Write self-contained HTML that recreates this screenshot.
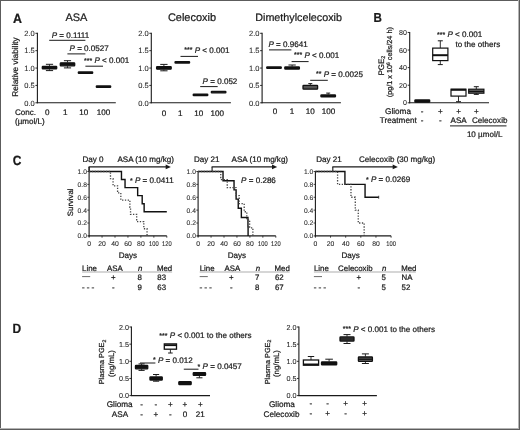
<!DOCTYPE html>
<html><head><meta charset="utf-8"><style>
html,body{margin:0;padding:0;background:#fff;}
svg{display:block;will-change:transform;}
text{font-family:"Liberation Sans",sans-serif;text-rendering:geometricPrecision;stroke:#1a1a1a;stroke-width:0.22px;}
text.tk{stroke-width:0.08px;fill:#2a2a2a;}
</style></head><body>
<svg width="520" height="430" viewBox="0 0 520 430" fill="#1a1a1a" font-family="Liberation Sans, sans-serif">
<rect x="0" y="0" width="520" height="430" fill="#fff"/>
<rect x="0" y="0" width="520" height="1" fill="#5c5c5c"/>
<rect x="0" y="0" width="1" height="430" fill="#5c5c5c"/>
<rect x="518" y="0" width="1" height="430" fill="#b4b4b4"/>
<rect x="0" y="428" width="519" height="1" fill="#b4b4b4"/>
<rect x="519" y="0" width="1" height="430" fill="#5c5c5c"/>
<rect x="0" y="429" width="520" height="1" fill="#5c5c5c"/>
<text x="0" y="0" font-size="12.4" font-weight="bold" transform="translate(13.1 22.5) scale(1 1.08)">A</text>
<line x1="37.40" y1="32.80" x2="37.40" y2="103.30" stroke="#1a1a1a" stroke-width="1.1" />
<line x1="36.90" y1="102.80" x2="115.80" y2="102.80" stroke="#1a1a1a" stroke-width="1.1" />
<line x1="35.40" y1="33.30" x2="37.40" y2="33.30" stroke="#1a1a1a" stroke-width="0.9" />
<text x="34.80" y="36.10" font-size="7.5" text-anchor="end" class="tk">2.0</text>
<line x1="35.40" y1="50.67" x2="37.40" y2="50.67" stroke="#1a1a1a" stroke-width="0.9" />
<text x="34.80" y="53.47" font-size="7.5" text-anchor="end" class="tk">1.5</text>
<line x1="35.40" y1="68.05" x2="37.40" y2="68.05" stroke="#1a1a1a" stroke-width="0.9" />
<text x="34.80" y="70.85" font-size="7.5" text-anchor="end" class="tk">1.0</text>
<line x1="35.40" y1="85.42" x2="37.40" y2="85.42" stroke="#1a1a1a" stroke-width="0.9" />
<text x="34.80" y="88.22" font-size="7.5" text-anchor="end" class="tk">0.5</text>
<line x1="35.40" y1="102.80" x2="37.40" y2="102.80" stroke="#1a1a1a" stroke-width="0.9" />
<text x="34.80" y="105.60" font-size="7.5" text-anchor="end" class="tk">0.0</text>
<text x="76.40" y="20.90" font-size="10.97" text-anchor="middle" >ASA</text>
<text x="17.6" y="67" font-size="8.3" text-anchor="middle" transform="rotate(-90 17.6 67)" fill="#1a1a1a">Relative viability</text>
<line x1="49.50" y1="64.30" x2="49.50" y2="65.90" stroke="#1a1a1a" stroke-width="0.9" />
<line x1="45.90" y1="64.30" x2="53.10" y2="64.30" stroke="#1a1a1a" stroke-width="1.0" />
<line x1="49.50" y1="69.30" x2="49.50" y2="70.60" stroke="#1a1a1a" stroke-width="0.9" />
<line x1="45.90" y1="70.60" x2="53.10" y2="70.60" stroke="#1a1a1a" stroke-width="1.0" />
<rect x="42.30" y="66.30" width="14.40" height="2.60" fill="#111" stroke="#111" stroke-width="1.3" rx="0.6"/>
<line x1="67.50" y1="60.70" x2="67.50" y2="62.40" stroke="#1a1a1a" stroke-width="0.9" />
<line x1="63.90" y1="60.70" x2="71.10" y2="60.70" stroke="#1a1a1a" stroke-width="1.0" />
<line x1="67.50" y1="66.20" x2="67.50" y2="67.90" stroke="#1a1a1a" stroke-width="0.9" />
<line x1="63.90" y1="67.90" x2="71.10" y2="67.90" stroke="#1a1a1a" stroke-width="1.0" />
<rect x="60.30" y="62.80" width="14.40" height="3.00" fill="#111" stroke="#111" stroke-width="1.3" rx="0.6"/>
<rect x="78.30" y="72.00" width="14.40" height="1.30" fill="#111" stroke="#111" stroke-width="1.3" rx="0.6"/>
<rect x="96.30" y="86.00" width="14.40" height="1.30" fill="#111" stroke="#111" stroke-width="1.3" rx="0.6"/>
<line x1="49.20" y1="40.30" x2="85.40" y2="40.30" stroke="#1a1a1a" stroke-width="1.0" />
<text x="51.70" y="37.60" font-size="8.07" ><tspan font-style="italic">P</tspan> = 0.1111</text>
<line x1="67.40" y1="53.90" x2="85.40" y2="53.90" stroke="#1a1a1a" stroke-width="1.0" />
<text x="69.50" y="50.60" font-size="8.07" ><tspan font-style="italic">P</tspan> = 0.0527</text>
<line x1="85.40" y1="66.20" x2="103.00" y2="66.20" stroke="#1a1a1a" stroke-width="1.0" />
<text x="84.00" y="63.30" font-size="8.07" ><tspan font-size="7.02" dy="-0.4">***</tspan><tspan dy="0.4"> </tspan><tspan font-style="italic">P</tspan> &lt; 0.001</text>
<text x="47.30" y="115.20" font-size="8.07" text-anchor="middle" >0</text>
<text x="65.20" y="115.20" font-size="8.07" text-anchor="middle" >1</text>
<text x="83.80" y="115.20" font-size="8.07" text-anchor="middle" >10</text>
<text x="103.40" y="115.20" font-size="8.07" text-anchor="middle" >100</text>
<text x="15.00" y="115.40" font-size="8.07" >Conc.</text>
<text x="15.00" y="124.30" font-size="8.07" >(µmol/L)</text>
<line x1="151.30" y1="32.80" x2="151.30" y2="103.30" stroke="#1a1a1a" stroke-width="1.1" />
<line x1="150.80" y1="102.80" x2="230.90" y2="102.80" stroke="#1a1a1a" stroke-width="1.1" />
<line x1="149.30" y1="33.30" x2="151.30" y2="33.30" stroke="#1a1a1a" stroke-width="0.9" />
<text x="148.70" y="36.10" font-size="7.5" text-anchor="end" class="tk">2.0</text>
<line x1="149.30" y1="50.67" x2="151.30" y2="50.67" stroke="#1a1a1a" stroke-width="0.9" />
<text x="148.70" y="53.47" font-size="7.5" text-anchor="end" class="tk">1.5</text>
<line x1="149.30" y1="68.05" x2="151.30" y2="68.05" stroke="#1a1a1a" stroke-width="0.9" />
<text x="148.70" y="70.85" font-size="7.5" text-anchor="end" class="tk">1.0</text>
<line x1="149.30" y1="85.42" x2="151.30" y2="85.42" stroke="#1a1a1a" stroke-width="0.9" />
<text x="148.70" y="88.22" font-size="7.5" text-anchor="end" class="tk">0.5</text>
<line x1="149.30" y1="102.80" x2="151.30" y2="102.80" stroke="#1a1a1a" stroke-width="0.9" />
<text x="148.70" y="105.60" font-size="7.5" text-anchor="end" class="tk">0.0</text>
<text x="192.00" y="20.90" font-size="10.97" text-anchor="middle" >Celecoxib</text>
<line x1="163.90" y1="64.40" x2="163.90" y2="66.20" stroke="#1a1a1a" stroke-width="0.9" />
<line x1="160.25" y1="64.40" x2="167.55" y2="64.40" stroke="#1a1a1a" stroke-width="1.0" />
<line x1="163.90" y1="69.60" x2="163.90" y2="70.80" stroke="#1a1a1a" stroke-width="0.9" />
<line x1="160.25" y1="70.80" x2="167.55" y2="70.80" stroke="#1a1a1a" stroke-width="1.0" />
<rect x="156.60" y="66.60" width="14.60" height="2.60" fill="#111" stroke="#111" stroke-width="1.3" rx="0.6"/>
<rect x="175.00" y="61.70" width="14.60" height="1.30" fill="#111" stroke="#111" stroke-width="1.3" rx="0.6"/>
<rect x="193.20" y="94.10" width="14.60" height="1.40" fill="#111" stroke="#111" stroke-width="1.3" rx="0.6"/>
<rect x="211.30" y="91.40" width="14.60" height="1.40" fill="#111" stroke="#111" stroke-width="1.3" rx="0.6"/>
<line x1="180.50" y1="56.40" x2="198.00" y2="56.40" stroke="#1a1a1a" stroke-width="1.0" />
<text x="184.20" y="52.50" font-size="8.07" ><tspan font-size="7.02" dy="-0.4">***</tspan><tspan dy="0.4"> </tspan><tspan font-style="italic">P</tspan> &lt; 0.001</text>
<line x1="200.20" y1="86.60" x2="217.70" y2="86.60" stroke="#1a1a1a" stroke-width="1.0" />
<text x="202.60" y="83.70" font-size="8.07" ><tspan font-style="italic">P</tspan> = 0.052</text>
<text x="163.90" y="115.70" font-size="8.07" text-anchor="middle" >0</text>
<text x="180.30" y="115.70" font-size="8.07" text-anchor="middle" >1</text>
<text x="198.70" y="115.70" font-size="8.07" text-anchor="middle" >10</text>
<text x="217.30" y="115.70" font-size="8.07" text-anchor="middle" >100</text>
<line x1="262.10" y1="32.80" x2="262.10" y2="103.30" stroke="#1a1a1a" stroke-width="1.1" />
<line x1="261.60" y1="102.80" x2="340.90" y2="102.80" stroke="#1a1a1a" stroke-width="1.1" />
<line x1="260.10" y1="33.30" x2="262.10" y2="33.30" stroke="#1a1a1a" stroke-width="0.9" />
<text x="259.50" y="36.10" font-size="7.5" text-anchor="end" class="tk">2.0</text>
<line x1="260.10" y1="50.67" x2="262.10" y2="50.67" stroke="#1a1a1a" stroke-width="0.9" />
<text x="259.50" y="53.47" font-size="7.5" text-anchor="end" class="tk">1.5</text>
<line x1="260.10" y1="68.05" x2="262.10" y2="68.05" stroke="#1a1a1a" stroke-width="0.9" />
<text x="259.50" y="70.85" font-size="7.5" text-anchor="end" class="tk">1.0</text>
<line x1="260.10" y1="85.42" x2="262.10" y2="85.42" stroke="#1a1a1a" stroke-width="0.9" />
<text x="259.50" y="88.22" font-size="7.5" text-anchor="end" class="tk">0.5</text>
<line x1="260.10" y1="102.80" x2="262.10" y2="102.80" stroke="#1a1a1a" stroke-width="0.9" />
<text x="259.50" y="105.60" font-size="7.5" text-anchor="end" class="tk">0.0</text>
<text x="298.60" y="20.90" font-size="10.76" text-anchor="middle" >Dimethylcelecoxib</text>
<rect x="266.70" y="67.00" width="14.60" height="1.30" fill="#111" stroke="#111" stroke-width="1.3" rx="0.6"/>
<line x1="292.10" y1="65.00" x2="292.10" y2="66.60" stroke="#1a1a1a" stroke-width="0.9" />
<line x1="288.45" y1="65.00" x2="295.75" y2="65.00" stroke="#1a1a1a" stroke-width="1.0" />
<rect x="284.80" y="67.00" width="14.60" height="2.00" fill="#111" stroke="#111" stroke-width="1.3" rx="0.6"/>
<line x1="310.30" y1="83.60" x2="310.30" y2="85.00" stroke="#1a1a1a" stroke-width="0.9" />
<line x1="308.30" y1="83.60" x2="312.30" y2="83.60" stroke="#1a1a1a" stroke-width="1.0" />
<rect x="303.00" y="85.40" width="14.60" height="3.80" fill="#555" stroke="#111" stroke-width="1.3" rx="0.6"/>
<line x1="328.20" y1="93.10" x2="328.20" y2="94.60" stroke="#1a1a1a" stroke-width="0.9" />
<line x1="326.20" y1="93.10" x2="330.20" y2="93.10" stroke="#1a1a1a" stroke-width="1.0" />
<rect x="320.90" y="95.00" width="14.60" height="1.90" fill="#111" stroke="#111" stroke-width="1.3" rx="0.6"/>
<line x1="269.00" y1="49.90" x2="291.40" y2="49.90" stroke="#1a1a1a" stroke-width="1.0" />
<text x="268.40" y="47.20" font-size="8.07" ><tspan font-style="italic">P</tspan> = 0.9641</text>
<line x1="291.60" y1="61.60" x2="308.60" y2="61.60" stroke="#1a1a1a" stroke-width="1.0" />
<text x="294.00" y="57.70" font-size="8.07" ><tspan font-size="7.02" dy="-0.4">***</tspan><tspan dy="0.4"> </tspan><tspan font-style="italic">P</tspan> &lt; 0.001</text>
<line x1="310.20" y1="80.30" x2="327.80" y2="80.30" stroke="#1a1a1a" stroke-width="1.0" />
<text x="316.00" y="76.70" font-size="8.07" ><tspan font-size="7.02" dy="-0.4">**</tspan><tspan dy="0.4"> </tspan><tspan font-style="italic">P</tspan> = 0.0025</text>
<text x="275.00" y="113.80" font-size="8.07" text-anchor="middle" >0</text>
<text x="291.90" y="113.80" font-size="8.07" text-anchor="middle" >1</text>
<text x="310.30" y="113.80" font-size="8.07" text-anchor="middle" >10</text>
<text x="328.60" y="113.80" font-size="8.07" text-anchor="middle" >100</text>
<text x="0" y="0" font-size="11.6" font-weight="bold" transform="translate(373.4 22.3) scale(1 1.12)">B</text>
<line x1="409.70" y1="31.94" x2="409.70" y2="103.30" stroke="#1a1a1a" stroke-width="1.1" />
<line x1="409.20" y1="102.80" x2="489.00" y2="102.80" stroke="#1a1a1a" stroke-width="1.1" />
<line x1="407.70" y1="32.44" x2="409.70" y2="32.44" stroke="#1a1a1a" stroke-width="0.9" />
<text x="407.00" y="34.94" font-size="7.1" text-anchor="end" class="tk">80</text>
<line x1="407.70" y1="50.03" x2="409.70" y2="50.03" stroke="#1a1a1a" stroke-width="0.9" />
<text x="407.00" y="52.53" font-size="7.1" text-anchor="end" class="tk">60</text>
<line x1="407.70" y1="67.62" x2="409.70" y2="67.62" stroke="#1a1a1a" stroke-width="0.9" />
<text x="407.00" y="70.12" font-size="7.1" text-anchor="end" class="tk">40</text>
<line x1="407.70" y1="85.21" x2="409.70" y2="85.21" stroke="#1a1a1a" stroke-width="0.9" />
<text x="407.00" y="87.71" font-size="7.1" text-anchor="end" class="tk">20</text>
<line x1="407.70" y1="102.80" x2="409.70" y2="102.80" stroke="#1a1a1a" stroke-width="0.9" />
<text x="407.00" y="105.30" font-size="7.1" text-anchor="end" class="tk">0</text>
<text x="0" y="0" font-size="8.0" text-anchor="middle" transform="translate(383.5 65.6) rotate(-90)" fill="#1a1a1a">PGE<tspan font-size="5.4" dy="1.6">2</tspan></text>
<text x="0" y="0" font-size="7.25" text-anchor="middle" transform="translate(392.4 62.2) rotate(-90)" fill="#1a1a1a">(pg/1 x 10<tspan font-size="5" dy="-2.6">6</tspan><tspan dy="2.6"> cells/24 h)</tspan></text>
<rect x="414.90" y="100.00" width="14.80" height="2.20" fill="#111" stroke="#111" stroke-width="1.3" rx="0.6"/>
<line x1="440.30" y1="40.80" x2="440.30" y2="48.10" stroke="#1a1a1a" stroke-width="0.9" />
<line x1="437.80" y1="40.80" x2="442.80" y2="40.80" stroke="#1a1a1a" stroke-width="1.0" />
<line x1="440.30" y1="60.60" x2="440.30" y2="64.60" stroke="#1a1a1a" stroke-width="0.9" />
<line x1="437.80" y1="64.60" x2="442.80" y2="64.60" stroke="#1a1a1a" stroke-width="1.0" />
<rect x="432.70" y="48.10" width="15.20" height="12.50" fill="#fff" stroke="#111" stroke-width="1.2"/>
<line x1="432.70" y1="55.20" x2="447.90" y2="55.20" stroke="#111" stroke-width="2.0" />
<line x1="458.50" y1="96.10" x2="458.50" y2="101.70" stroke="#1a1a1a" stroke-width="0.9" />
<line x1="456.00" y1="101.70" x2="461.00" y2="101.70" stroke="#1a1a1a" stroke-width="1.0" />
<rect x="451.00" y="89.20" width="15.00" height="6.90" fill="#fff" stroke="#111" stroke-width="1.2"/>
<line x1="451.00" y1="89.80" x2="466.00" y2="89.80" stroke="#111" stroke-width="2.0" />
<line x1="476.30" y1="86.70" x2="476.30" y2="89.20" stroke="#1a1a1a" stroke-width="0.9" />
<line x1="473.80" y1="86.70" x2="478.80" y2="86.70" stroke="#1a1a1a" stroke-width="1.0" />
<line x1="476.30" y1="93.20" x2="476.30" y2="94.40" stroke="#1a1a1a" stroke-width="0.9" />
<line x1="473.80" y1="94.40" x2="478.80" y2="94.40" stroke="#1a1a1a" stroke-width="1.0" />
<rect x="468.70" y="89.2" width="15.2" height="4.0" fill="#888" stroke="#111" stroke-width="1.2"/>
<line x1="468.70" y1="91.40" x2="483.90" y2="91.40" stroke="#111" stroke-width="1.6" />
<text x="437.00" y="37.00" font-size="8.07" ><tspan font-size="7.02" dy="-0.4">***</tspan><tspan dy="0.4"> </tspan><tspan font-style="italic">P</tspan> &lt; 0.001</text>
<text x="455.40" y="46.80" font-size="8.07" >to the others</text>
<text x="398.00" y="113.80" font-size="8.18" text-anchor="middle" >Glioma</text>
<text x="398.30" y="123.20" font-size="8.18" text-anchor="middle" >Treatment</text>
<text x="422.20" y="113.80" font-size="8.07" text-anchor="middle" >-</text>
<text x="440.40" y="113.80" font-size="8.07" text-anchor="middle" >+</text>
<text x="458.50" y="113.80" font-size="8.07" text-anchor="middle" >+</text>
<text x="476.30" y="113.80" font-size="8.07" text-anchor="middle" >+</text>
<text x="422.20" y="123.20" font-size="8.07" text-anchor="middle" >-</text>
<text x="440.40" y="123.20" font-size="8.07" text-anchor="middle" >-</text>
<text x="450.60" y="123.20" font-size="8.07" >ASA</text>
<text x="472.00" y="123.20" font-size="8.07" >Celecoxib</text>
<line x1="450.00" y1="125.90" x2="506.50" y2="125.90" stroke="#1a1a1a" stroke-width="1.0" />
<text x="466.90" y="137.00" font-size="8.07" >10 µmol/L</text>
<text x="0" y="0" font-size="12.0" font-weight="bold" transform="translate(12.7 165.1) scale(1 1.12)">C</text>
<line x1="89.10" y1="167.00" x2="89.10" y2="236.40" stroke="#1a1a1a" stroke-width="1.1" />
<line x1="88.60" y1="235.90" x2="166.80" y2="235.90" stroke="#1a1a1a" stroke-width="1.1" />
<line x1="87.30" y1="235.90" x2="89.10" y2="235.90" stroke="#1a1a1a" stroke-width="0.8" />
<text x="86.90" y="238.30" font-size="6.7" text-anchor="end" class="tk">0.0</text>
<line x1="87.30" y1="223.02" x2="89.10" y2="223.02" stroke="#1a1a1a" stroke-width="0.8" />
<text x="86.90" y="225.42" font-size="6.7" text-anchor="end" class="tk">0.2</text>
<line x1="87.30" y1="210.14" x2="89.10" y2="210.14" stroke="#1a1a1a" stroke-width="0.8" />
<text x="86.90" y="212.54" font-size="6.7" text-anchor="end" class="tk">0.4</text>
<line x1="87.30" y1="197.26" x2="89.10" y2="197.26" stroke="#1a1a1a" stroke-width="0.8" />
<text x="86.90" y="199.66" font-size="6.7" text-anchor="end" class="tk">0.6</text>
<line x1="87.30" y1="184.38" x2="89.10" y2="184.38" stroke="#1a1a1a" stroke-width="0.8" />
<text x="86.90" y="186.78" font-size="6.7" text-anchor="end" class="tk">0.8</text>
<line x1="87.30" y1="171.50" x2="89.10" y2="171.50" stroke="#1a1a1a" stroke-width="0.8" />
<text x="86.90" y="173.90" font-size="6.7" text-anchor="end" class="tk">1.0</text>
<line x1="89.10" y1="235.90" x2="89.10" y2="237.70" stroke="#1a1a1a" stroke-width="0.8" />
<text x="89.10" y="245.60" font-size="6.8" text-anchor="middle" class="tk">0</text>
<line x1="102.05" y1="235.90" x2="102.05" y2="237.70" stroke="#1a1a1a" stroke-width="0.8" />
<text x="102.05" y="245.60" font-size="6.8" text-anchor="middle" class="tk">20</text>
<line x1="115.00" y1="235.90" x2="115.00" y2="237.70" stroke="#1a1a1a" stroke-width="0.8" />
<text x="115.00" y="245.60" font-size="6.8" text-anchor="middle" class="tk">40</text>
<line x1="127.95" y1="235.90" x2="127.95" y2="237.70" stroke="#1a1a1a" stroke-width="0.8" />
<text x="127.95" y="245.60" font-size="6.8" text-anchor="middle" class="tk">60</text>
<line x1="140.90" y1="235.90" x2="140.90" y2="237.70" stroke="#1a1a1a" stroke-width="0.8" />
<text x="140.90" y="245.60" font-size="6.8" text-anchor="middle" class="tk">80</text>
<line x1="153.85" y1="235.90" x2="153.85" y2="237.70" stroke="#1a1a1a" stroke-width="0.8" />
<text x="153.85" y="245.60" font-size="6.8" text-anchor="middle" textLength="9.6" lengthAdjust="spacingAndGlyphs" class="tk">100</text>
<line x1="166.80" y1="235.90" x2="166.80" y2="237.70" stroke="#1a1a1a" stroke-width="0.8" />
<text x="166.80" y="245.60" font-size="6.8" text-anchor="middle" textLength="9.6" lengthAdjust="spacingAndGlyphs" class="tk">120</text>
<line x1="89.10" y1="171.50" x2="89.10" y2="166.90" stroke="#1a1a1a" stroke-width="1.1" />
<line x1="88.60" y1="166.90" x2="166.90" y2="166.90" stroke="#1a1a1a" stroke-width="1.1" />
<polygon points="165.70,164.6 170.90,166.9 165.70,169.2" fill="#1a1a1a"/>
<text x="127.95" y="257.60" font-size="8.07" text-anchor="middle" >Days</text>
<text x="82.50" y="162.10" font-size="8.07" >Day 0</text>
<text x="0" y="0" font-size="7.8" text-anchor="middle" transform="translate(73.2 202.3) rotate(-90)" fill="#1a1a1a">Survival</text>
<text x="117.40" y="162.10" font-size="8.07" >ASA (10 mg/kg)</text>
<polyline points="89.10,171.50 121.47,171.50 121.47,179.55 125.04,179.55 125.04,187.60 137.66,187.60 137.66,195.65 142.19,195.65 142.19,203.70 144.14,203.70 144.14,211.75 166.80,211.75" fill="none" stroke="#111" stroke-width="1.4" stroke-linejoin="miter"/>
<polyline points="89.10,171.50 110.47,171.50 110.47,178.66 113.06,178.66 113.06,185.81 117.59,185.81 117.59,192.97 120.83,192.97 120.83,200.12 129.89,200.12 129.89,207.28 130.54,207.28 130.54,214.43 136.69,214.43 136.69,221.59 143.81,221.59 143.81,228.74 147.05,228.74 147.05,235.90 147.05,235.90" fill="none" stroke="#444" stroke-width="1.3" stroke-dasharray="1.3 1.5" stroke-linejoin="miter"/>
<text x="130.00" y="183.30" font-size="8.07" ><tspan font-size="7.02" dy="-0.4">*</tspan><tspan dy="0.4"> </tspan><tspan font-style="italic">P</tspan> = 0.0411</text>
<text x="82.10" y="271.10" font-size="7.87" >Line</text>
<text x="107.00" y="271.10" font-size="7.87" >ASA</text>
<text x="138.10" y="271.10" font-size="7.87" font-style="italic" >n</text>
<text x="156.90" y="271.10" font-size="7.87" >Med</text>
<line x1="82.10" y1="272.00" x2="172.10" y2="272.00" stroke="#777" stroke-width="0.6" />
<line x1="82.10" y1="276.60" x2="90.20" y2="276.60" stroke="#444" stroke-width="0.8" />
<line x1="82.10" y1="287.90" x2="94.20" y2="287.90" stroke="#222" stroke-width="0.9" stroke-dasharray="2.4 2.4"/>
<text x="113.40" y="280.30" font-size="7.87" text-anchor="middle" >+</text>
<text x="113.40" y="290.00" font-size="7.87" text-anchor="middle" >-</text>
<text x="139.70" y="280.30" font-size="7.87" text-anchor="middle" >8</text>
<text x="139.70" y="290.00" font-size="7.87" text-anchor="middle" >9</text>
<text x="157.30" y="280.30" font-size="7.87" >83</text>
<text x="157.30" y="290.00" font-size="7.87" >63</text>
<line x1="198.10" y1="171.00" x2="198.10" y2="236.40" stroke="#1a1a1a" stroke-width="1.1" />
<line x1="197.60" y1="235.90" x2="275.80" y2="235.90" stroke="#1a1a1a" stroke-width="1.1" />
<line x1="196.30" y1="235.90" x2="198.10" y2="235.90" stroke="#1a1a1a" stroke-width="0.8" />
<text x="195.90" y="238.30" font-size="6.7" text-anchor="end" class="tk">0.0</text>
<line x1="196.30" y1="223.02" x2="198.10" y2="223.02" stroke="#1a1a1a" stroke-width="0.8" />
<text x="195.90" y="225.42" font-size="6.7" text-anchor="end" class="tk">0.2</text>
<line x1="196.30" y1="210.14" x2="198.10" y2="210.14" stroke="#1a1a1a" stroke-width="0.8" />
<text x="195.90" y="212.54" font-size="6.7" text-anchor="end" class="tk">0.4</text>
<line x1="196.30" y1="197.26" x2="198.10" y2="197.26" stroke="#1a1a1a" stroke-width="0.8" />
<text x="195.90" y="199.66" font-size="6.7" text-anchor="end" class="tk">0.6</text>
<line x1="196.30" y1="184.38" x2="198.10" y2="184.38" stroke="#1a1a1a" stroke-width="0.8" />
<text x="195.90" y="186.78" font-size="6.7" text-anchor="end" class="tk">0.8</text>
<line x1="196.30" y1="171.50" x2="198.10" y2="171.50" stroke="#1a1a1a" stroke-width="0.8" />
<text x="195.90" y="173.90" font-size="6.7" text-anchor="end" class="tk">1.0</text>
<line x1="198.10" y1="235.90" x2="198.10" y2="237.70" stroke="#1a1a1a" stroke-width="0.8" />
<text x="198.10" y="245.60" font-size="6.8" text-anchor="middle" class="tk">0</text>
<line x1="211.05" y1="235.90" x2="211.05" y2="237.70" stroke="#1a1a1a" stroke-width="0.8" />
<text x="211.05" y="245.60" font-size="6.8" text-anchor="middle" class="tk">20</text>
<line x1="224.00" y1="235.90" x2="224.00" y2="237.70" stroke="#1a1a1a" stroke-width="0.8" />
<text x="224.00" y="245.60" font-size="6.8" text-anchor="middle" class="tk">40</text>
<line x1="236.95" y1="235.90" x2="236.95" y2="237.70" stroke="#1a1a1a" stroke-width="0.8" />
<text x="236.95" y="245.60" font-size="6.8" text-anchor="middle" class="tk">60</text>
<line x1="249.90" y1="235.90" x2="249.90" y2="237.70" stroke="#1a1a1a" stroke-width="0.8" />
<text x="249.90" y="245.60" font-size="6.8" text-anchor="middle" class="tk">80</text>
<line x1="262.85" y1="235.90" x2="262.85" y2="237.70" stroke="#1a1a1a" stroke-width="0.8" />
<text x="262.85" y="245.60" font-size="6.8" text-anchor="middle" textLength="9.6" lengthAdjust="spacingAndGlyphs" class="tk">100</text>
<line x1="275.80" y1="235.90" x2="275.80" y2="237.70" stroke="#1a1a1a" stroke-width="0.8" />
<text x="275.80" y="245.60" font-size="6.8" text-anchor="middle" textLength="9.6" lengthAdjust="spacingAndGlyphs" class="tk">120</text>
<line x1="212.09" y1="171.50" x2="212.09" y2="166.90" stroke="#1a1a1a" stroke-width="1.1" />
<line x1="211.59" y1="166.90" x2="273.20" y2="166.90" stroke="#1a1a1a" stroke-width="1.1" />
<polygon points="272.00,164.6 277.20,166.9 272.00,169.2" fill="#1a1a1a"/>
<text x="236.95" y="257.60" font-size="8.07" text-anchor="middle" >Days</text>
<text x="194.00" y="162.10" font-size="8.07" >Day 21</text>
<text x="231.60" y="162.10" font-size="8.07" >ASA (10 mg/kg)</text>
<polyline points="198.10,171.50 223.03,171.50 223.03,180.70 234.04,180.70 234.04,189.90 236.11,189.90 236.11,199.10 238.25,199.10 238.25,208.30 241.35,208.30 241.35,217.50 247.96,217.50 247.96,226.70 248.09,226.70 248.09,235.90 248.09,235.90" fill="none" stroke="#111" stroke-width="1.4" stroke-linejoin="miter"/>
<polyline points="198.10,171.50 220.76,171.50 220.76,179.55 227.24,179.55 227.24,187.60 235.98,187.60 235.98,195.65 239.22,195.65 239.22,203.70 244.20,203.70 244.20,211.75 246.79,211.75 246.79,219.80 249.64,219.80 249.64,227.85 252.88,227.85 252.88,235.90 252.88,235.90" fill="none" stroke="#444" stroke-width="1.3" stroke-dasharray="1.3 1.5" stroke-linejoin="miter"/>
<text x="241.10" y="183.30" font-size="8.07" ><tspan font-style="italic">P</tspan> = 0.286</text>
<text x="199.70" y="271.10" font-size="7.87" >Line</text>
<text x="224.60" y="271.10" font-size="7.87" >ASA</text>
<text x="255.70" y="271.10" font-size="7.87" font-style="italic" >n</text>
<text x="274.50" y="271.10" font-size="7.87" >Med</text>
<line x1="199.70" y1="272.00" x2="289.70" y2="272.00" stroke="#777" stroke-width="0.6" />
<line x1="199.70" y1="276.60" x2="207.80" y2="276.60" stroke="#444" stroke-width="0.8" />
<line x1="199.70" y1="287.90" x2="211.80" y2="287.90" stroke="#222" stroke-width="0.9" stroke-dasharray="2.4 2.4"/>
<text x="231.40" y="280.30" font-size="7.87" text-anchor="middle" >+</text>
<text x="231.40" y="290.00" font-size="7.87" text-anchor="middle" >-</text>
<text x="257.30" y="280.30" font-size="7.87" text-anchor="middle" >7</text>
<text x="257.30" y="290.00" font-size="7.87" text-anchor="middle" >8</text>
<text x="274.90" y="280.30" font-size="7.87" >62</text>
<text x="274.90" y="290.00" font-size="7.87" >67</text>
<line x1="315.40" y1="171.00" x2="315.40" y2="236.40" stroke="#1a1a1a" stroke-width="1.1" />
<line x1="314.90" y1="235.90" x2="391.10" y2="235.90" stroke="#1a1a1a" stroke-width="1.1" />
<line x1="313.60" y1="235.90" x2="315.40" y2="235.90" stroke="#1a1a1a" stroke-width="0.8" />
<text x="313.20" y="238.30" font-size="6.7" text-anchor="end" class="tk">0.0</text>
<line x1="313.60" y1="223.02" x2="315.40" y2="223.02" stroke="#1a1a1a" stroke-width="0.8" />
<text x="313.20" y="225.42" font-size="6.7" text-anchor="end" class="tk">0.2</text>
<line x1="313.60" y1="210.14" x2="315.40" y2="210.14" stroke="#1a1a1a" stroke-width="0.8" />
<text x="313.20" y="212.54" font-size="6.7" text-anchor="end" class="tk">0.4</text>
<line x1="313.60" y1="197.26" x2="315.40" y2="197.26" stroke="#1a1a1a" stroke-width="0.8" />
<text x="313.20" y="199.66" font-size="6.7" text-anchor="end" class="tk">0.6</text>
<line x1="313.60" y1="184.38" x2="315.40" y2="184.38" stroke="#1a1a1a" stroke-width="0.8" />
<text x="313.20" y="186.78" font-size="6.7" text-anchor="end" class="tk">0.8</text>
<line x1="313.60" y1="171.50" x2="315.40" y2="171.50" stroke="#1a1a1a" stroke-width="0.8" />
<text x="313.20" y="173.90" font-size="6.7" text-anchor="end" class="tk">1.0</text>
<line x1="315.40" y1="235.90" x2="315.40" y2="237.70" stroke="#1a1a1a" stroke-width="0.8" />
<text x="315.40" y="245.60" font-size="6.8" text-anchor="middle" class="tk">0</text>
<line x1="330.54" y1="235.90" x2="330.54" y2="237.70" stroke="#1a1a1a" stroke-width="0.8" />
<text x="330.54" y="245.60" font-size="6.8" text-anchor="middle" class="tk">20</text>
<line x1="345.68" y1="235.90" x2="345.68" y2="237.70" stroke="#1a1a1a" stroke-width="0.8" />
<text x="345.68" y="245.60" font-size="6.8" text-anchor="middle" class="tk">40</text>
<line x1="360.82" y1="235.90" x2="360.82" y2="237.70" stroke="#1a1a1a" stroke-width="0.8" />
<text x="360.82" y="245.60" font-size="6.8" text-anchor="middle" class="tk">60</text>
<line x1="375.96" y1="235.90" x2="375.96" y2="237.70" stroke="#1a1a1a" stroke-width="0.8" />
<text x="375.96" y="245.60" font-size="6.8" text-anchor="middle" class="tk">80</text>
<line x1="391.10" y1="235.90" x2="391.10" y2="237.70" stroke="#1a1a1a" stroke-width="0.8" />
<text x="391.10" y="245.60" font-size="6.8" text-anchor="middle" textLength="9.6" lengthAdjust="spacingAndGlyphs" class="tk">100</text>
<line x1="332.81" y1="171.50" x2="332.81" y2="166.90" stroke="#1a1a1a" stroke-width="1.1" />
<line x1="332.31" y1="166.90" x2="393.90" y2="166.90" stroke="#1a1a1a" stroke-width="1.1" />
<polygon points="392.70,164.6 397.90,166.9 392.70,169.2" fill="#1a1a1a"/>
<text x="350.60" y="257.60" font-size="8.07" text-anchor="middle" >Days</text>
<text x="316.20" y="162.10" font-size="8.07" >Day 21</text>
<text x="359.00" y="162.10" font-size="8.07" >Celecoxib (30 mg/kg)</text>
<polyline points="315.40,171.50 344.92,171.50 344.92,184.38 365.06,184.38 365.06,197.26 378.69,197.26" fill="none" stroke="#111" stroke-width="1.4" stroke-linejoin="miter"/>
<line x1="378.69" y1="195.76" x2="378.69" y2="198.76" stroke="#1a1a1a" stroke-width="0.8" />
<polyline points="315.40,171.50 337.58,171.50 337.58,184.38 350.98,184.38 350.98,197.26 355.29,197.26 355.29,210.14 358.25,210.14 358.25,223.02 364.15,223.02 364.15,235.90 364.15,235.90" fill="none" stroke="#444" stroke-width="1.3" stroke-dasharray="1.3 1.5" stroke-linejoin="miter"/>
<text x="366.00" y="182.30" font-size="8.07" ><tspan font-size="7.02" dy="-0.4">*</tspan><tspan dy="0.4"> </tspan><tspan font-style="italic">P</tspan> = 0.0269</text>
<text x="313.90" y="271.10" font-size="7.87" >Line</text>
<text x="338.10" y="271.10" font-size="7.87" >Celecoxib</text>
<text x="382.00" y="271.10" font-size="7.87" font-style="italic" >n</text>
<text x="401.20" y="271.10" font-size="7.87" >Med</text>
<line x1="313.90" y1="272.00" x2="415.90" y2="272.00" stroke="#777" stroke-width="0.6" />
<line x1="313.90" y1="276.60" x2="322.00" y2="276.60" stroke="#444" stroke-width="0.8" />
<line x1="313.90" y1="287.90" x2="326.00" y2="287.90" stroke="#222" stroke-width="0.9" stroke-dasharray="2.4 2.4"/>
<text x="358.90" y="280.30" font-size="7.87" text-anchor="middle" >+</text>
<text x="358.90" y="290.00" font-size="7.87" text-anchor="middle" >-</text>
<text x="383.60" y="280.30" font-size="7.87" text-anchor="middle" >5</text>
<text x="383.60" y="290.00" font-size="7.87" text-anchor="middle" >5</text>
<text x="401.60" y="280.30" font-size="7.87" >NA</text>
<text x="401.60" y="290.00" font-size="7.87" >52</text>
<text x="0" y="0" font-size="12.0" font-weight="bold" transform="translate(12.6 332.6) scale(1 1.12)">D</text>
<line x1="131.40" y1="326.50" x2="131.40" y2="396.10" stroke="#1a1a1a" stroke-width="1.1" />
<line x1="130.90" y1="395.60" x2="210.00" y2="395.60" stroke="#1a1a1a" stroke-width="1.1" />
<line x1="129.40" y1="327.00" x2="131.40" y2="327.00" stroke="#1a1a1a" stroke-width="0.9" />
<text x="129.00" y="329.60" font-size="7.2" text-anchor="end" class="tk">2.0</text>
<line x1="129.40" y1="344.15" x2="131.40" y2="344.15" stroke="#1a1a1a" stroke-width="0.9" />
<text x="129.00" y="346.75" font-size="7.2" text-anchor="end" class="tk">1.5</text>
<line x1="129.40" y1="361.30" x2="131.40" y2="361.30" stroke="#1a1a1a" stroke-width="0.9" />
<text x="129.00" y="363.90" font-size="7.2" text-anchor="end" class="tk">1.0</text>
<line x1="129.40" y1="378.45" x2="131.40" y2="378.45" stroke="#1a1a1a" stroke-width="0.9" />
<text x="129.00" y="381.05" font-size="7.2" text-anchor="end" class="tk">0.5</text>
<line x1="129.40" y1="395.60" x2="131.40" y2="395.60" stroke="#1a1a1a" stroke-width="0.9" />
<text x="129.00" y="398.20" font-size="7.2" text-anchor="end" class="tk">0.0</text>
<text x="0" y="0" font-size="7.3" text-anchor="middle" transform="translate(104.40 362.0) rotate(-90)" fill="#1a1a1a">Plasma PGE<tspan font-size="5.2" dy="1.6">2</tspan></text>
<text x="0" y="0" font-size="7.8" text-anchor="middle" transform="translate(113.80 363.6) rotate(-90)" fill="#1a1a1a">(ng/mL)</text>
<line x1="141.60" y1="363.90" x2="141.60" y2="365.00" stroke="#1a1a1a" stroke-width="0.9" />
<line x1="138.53" y1="363.90" x2="144.67" y2="363.90" stroke="#1a1a1a" stroke-width="1.0" />
<line x1="141.60" y1="369.20" x2="141.60" y2="370.40" stroke="#1a1a1a" stroke-width="0.9" />
<line x1="138.53" y1="370.40" x2="144.67" y2="370.40" stroke="#1a1a1a" stroke-width="1.0" />
<rect x="135.45" y="365.40" width="12.30" height="3.40" fill="#111" stroke="#111" stroke-width="1.3" rx="0.6"/>
<line x1="156.10" y1="374.50" x2="156.10" y2="376.50" stroke="#1a1a1a" stroke-width="0.9" />
<line x1="153.03" y1="374.50" x2="159.17" y2="374.50" stroke="#1a1a1a" stroke-width="1.0" />
<line x1="156.10" y1="380.40" x2="156.10" y2="381.20" stroke="#1a1a1a" stroke-width="0.9" />
<line x1="153.03" y1="381.20" x2="159.17" y2="381.20" stroke="#1a1a1a" stroke-width="1.0" />
<rect x="149.95" y="376.90" width="12.30" height="3.10" fill="#111" stroke="#111" stroke-width="1.3" rx="0.6"/>
<line x1="170.40" y1="349.20" x2="170.40" y2="353.00" stroke="#1a1a1a" stroke-width="0.9" />
<line x1="168.10" y1="353.00" x2="172.70" y2="353.00" stroke="#1a1a1a" stroke-width="1.0" />
<rect x="164.30" y="343.90" width="12.20" height="5.30" fill="#fff" stroke="#111" stroke-width="1.3"/>
<line x1="164.30" y1="345.20" x2="176.50" y2="345.20" stroke="#111" stroke-width="1.8" />
<rect x="178.85" y="381.70" width="12.30" height="2.90" fill="#111" stroke="#111" stroke-width="1.3" rx="0.6"/>
<line x1="199.40" y1="375.80" x2="199.40" y2="377.80" stroke="#1a1a1a" stroke-width="0.9" />
<line x1="196.33" y1="377.80" x2="202.47" y2="377.80" stroke="#1a1a1a" stroke-width="1.0" />
<rect x="193.25" y="372.60" width="12.30" height="2.80" fill="#111" stroke="#111" stroke-width="1.3" rx="0.6"/>
<line x1="140.00" y1="363.00" x2="155.40" y2="363.00" stroke="#1a1a1a" stroke-width="1.0" />
<text x="153.00" y="362.70" font-size="8.07" ><tspan font-size="7.02" dy="-0.4">*</tspan><tspan dy="0.4"> </tspan><tspan font-style="italic">P</tspan> = 0.012</text>
<line x1="183.80" y1="369.20" x2="198.50" y2="369.20" stroke="#1a1a1a" stroke-width="1.0" />
<text x="197.60" y="368.90" font-size="8.07" ><tspan font-size="7.02" dy="-0.4">*</tspan><tspan dy="0.4"> </tspan><tspan font-style="italic">P</tspan> = 0.0457</text>
<text x="159.30" y="338.00" font-size="8.07" ><tspan font-size="7.02" dy="-0.4">***</tspan><tspan dy="0.4"> </tspan><tspan font-style="italic">P</tspan> &lt; 0.001 to the others</text>
<text x="119.70" y="406.60" font-size="8.18" text-anchor="middle" >Glioma</text>
<text x="120.00" y="416.60" font-size="8.18" text-anchor="middle" >ASA</text>
<text x="141.60" y="406.60" font-size="8.07" text-anchor="middle" >-</text>
<text x="141.60" y="416.60" font-size="8.07" text-anchor="middle" >-</text>
<text x="155.90" y="406.60" font-size="8.07" text-anchor="middle" >-</text>
<text x="155.90" y="416.60" font-size="8.07" text-anchor="middle" >+</text>
<text x="170.30" y="406.60" font-size="8.07" text-anchor="middle" >+</text>
<text x="170.30" y="416.60" font-size="8.07" text-anchor="middle" >-</text>
<text x="184.90" y="406.60" font-size="8.07" text-anchor="middle" >+</text>
<text x="184.90" y="416.60" font-size="8.07" text-anchor="middle" >0</text>
<text x="200.30" y="406.60" font-size="8.07" text-anchor="middle" >+</text>
<text x="200.30" y="416.60" font-size="8.07" text-anchor="middle" >21</text>
<line x1="298.90" y1="326.50" x2="298.90" y2="396.10" stroke="#1a1a1a" stroke-width="1.1" />
<line x1="298.40" y1="395.60" x2="376.90" y2="395.60" stroke="#1a1a1a" stroke-width="1.1" />
<line x1="296.90" y1="327.00" x2="298.90" y2="327.00" stroke="#1a1a1a" stroke-width="0.9" />
<text x="296.50" y="329.60" font-size="7.2" text-anchor="end" class="tk">2.0</text>
<line x1="296.90" y1="344.15" x2="298.90" y2="344.15" stroke="#1a1a1a" stroke-width="0.9" />
<text x="296.50" y="346.75" font-size="7.2" text-anchor="end" class="tk">1.5</text>
<line x1="296.90" y1="361.30" x2="298.90" y2="361.30" stroke="#1a1a1a" stroke-width="0.9" />
<text x="296.50" y="363.90" font-size="7.2" text-anchor="end" class="tk">1.0</text>
<line x1="296.90" y1="378.45" x2="298.90" y2="378.45" stroke="#1a1a1a" stroke-width="0.9" />
<text x="296.50" y="381.05" font-size="7.2" text-anchor="end" class="tk">0.5</text>
<line x1="296.90" y1="395.60" x2="298.90" y2="395.60" stroke="#1a1a1a" stroke-width="0.9" />
<text x="296.50" y="398.20" font-size="7.2" text-anchor="end" class="tk">0.0</text>
<text x="0" y="0" font-size="7.3" text-anchor="middle" transform="translate(269.80 362.0) rotate(-90)" fill="#1a1a1a">Plasma PGE<tspan font-size="5.2" dy="1.6">2</tspan></text>
<text x="0" y="0" font-size="7.8" text-anchor="middle" transform="translate(279.20 363.6) rotate(-90)" fill="#1a1a1a">(ng/mL)</text>
<line x1="311.00" y1="356.50" x2="311.00" y2="360.00" stroke="#1a1a1a" stroke-width="0.9" />
<line x1="307.80" y1="356.50" x2="314.20" y2="356.50" stroke="#1a1a1a" stroke-width="1.0" />
<rect x="303.40" y="360.00" width="15.20" height="5.20" fill="#fff" stroke="#111" stroke-width="1.3"/>
<line x1="303.40" y1="364.40" x2="318.60" y2="364.40" stroke="#111" stroke-width="1.8" />
<line x1="329.10" y1="359.20" x2="329.10" y2="361.60" stroke="#1a1a1a" stroke-width="0.9" />
<line x1="325.30" y1="359.20" x2="332.90" y2="359.20" stroke="#1a1a1a" stroke-width="1.0" />
<rect x="321.50" y="362.00" width="15.20" height="2.90" fill="#111" stroke="#111" stroke-width="1.3" rx="0.6"/>
<line x1="347.00" y1="334.60" x2="347.00" y2="336.60" stroke="#1a1a1a" stroke-width="0.9" />
<line x1="343.50" y1="334.60" x2="350.50" y2="334.60" stroke="#1a1a1a" stroke-width="1.0" />
<line x1="347.00" y1="341.40" x2="347.00" y2="343.50" stroke="#1a1a1a" stroke-width="0.9" />
<line x1="343.50" y1="343.50" x2="350.50" y2="343.50" stroke="#1a1a1a" stroke-width="1.0" />
<rect x="340.00" y="337.00" width="14.00" height="4.00" fill="#666" stroke="#111" stroke-width="1.3" rx="0.6"/>
<line x1="340.00" y1="339.00" x2="354.00" y2="339.00" stroke="#111" stroke-width="1.4" />
<line x1="365.40" y1="353.90" x2="365.40" y2="356.60" stroke="#1a1a1a" stroke-width="0.9" />
<line x1="361.90" y1="353.90" x2="368.90" y2="353.90" stroke="#1a1a1a" stroke-width="1.0" />
<line x1="365.40" y1="361.70" x2="365.40" y2="363.50" stroke="#1a1a1a" stroke-width="0.9" />
<line x1="361.90" y1="363.50" x2="368.90" y2="363.50" stroke="#1a1a1a" stroke-width="1.0" />
<rect x="358.40" y="357.00" width="14.00" height="4.30" fill="#666" stroke="#111" stroke-width="1.3" rx="0.6"/>
<line x1="358.40" y1="359.20" x2="372.40" y2="359.20" stroke="#111" stroke-width="1.4" />
<text x="342.70" y="331.50" font-size="8.07" ><tspan font-size="7.02" dy="-0.4">***</tspan><tspan dy="0.4"> </tspan><tspan font-style="italic">P</tspan> &lt; 0.001 to the others</text>
<text x="281.90" y="406.50" font-size="8.18" text-anchor="middle" >Glioma</text>
<text x="281.50" y="416.50" font-size="8.18" text-anchor="middle" >Celecoxib</text>
<text x="310.80" y="406.20" font-size="8.07" text-anchor="middle" >-</text>
<text x="310.80" y="416.20" font-size="8.07" text-anchor="middle" >-</text>
<text x="327.60" y="406.20" font-size="8.07" text-anchor="middle" >-</text>
<text x="327.60" y="416.20" font-size="8.07" text-anchor="middle" >+</text>
<text x="345.60" y="406.20" font-size="8.07" text-anchor="middle" >+</text>
<text x="345.60" y="416.20" font-size="8.07" text-anchor="middle" >-</text>
<text x="364.70" y="406.20" font-size="8.07" text-anchor="middle" >+</text>
<text x="364.70" y="416.20" font-size="8.07" text-anchor="middle" >+</text>
</svg>
</body></html>
